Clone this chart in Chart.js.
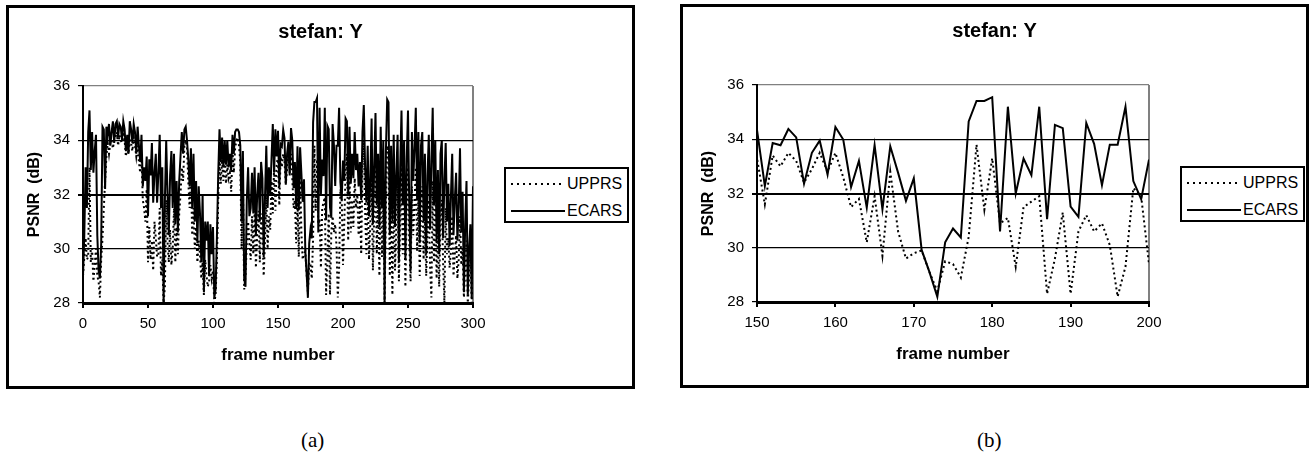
<!DOCTYPE html>
<html>
<head>
<meta charset="utf-8">
<script src="https://cdn.jsdelivr.net/npm/chart.js@4.4.1/dist/chart.umd.min.js"></script>
<style>
  html, body { margin: 0; padding: 0; background: #fff; }
  body { width: 1312px; height: 471px; position: relative; overflow: hidden; }
  .panel { position: absolute; width: 623px; height: 378px; border: 3px solid #000; background: #fff; }
  .plot { position: absolute; left: 0; top: 0; width: 623px; height: 378px; }
  .legend { position: absolute; border: 2px solid #000; background: #fff;
            font-family: 'Liberation Sans', Arial, sans-serif; font-size: 16px; color: #000; }
  .legend .row { position: absolute; left: 0; height: 20px; line-height: 20px; white-space: nowrap; }
  .legend svg { position: absolute; left: 4px; top: 4px; }
  .legend span { position: absolute; left: 61px; top: 0; }
  .cap { position: absolute; top: 428px; font-family: 'Liberation Serif', 'Times New Roman', serif;
         font-size: 21px; color: #000; }
</style>
</head>
<body>

<div class="panel" id="panelA" style="left:6px; top:5px;">
  <div class="plot"><canvas id="chartA"></canvas></div>
</div>
<div class="legend" style="left:504px; top:167px; width:121px; height:52px;">
  <div class="row" style="top:5px;"><svg width="56" height="12"><line x1="1" y1="6" x2="55" y2="6" stroke="#000" stroke-width="2" stroke-dasharray="2,4"/></svg><span>UPPRS</span></div>
  <div class="row" style="top:32px;"><svg width="56" height="12"><line x1="1" y1="6" x2="55" y2="6" stroke="#000" stroke-width="2"/></svg><span>ECARS</span></div>
</div>

<div class="panel" id="panelB" style="left:680px; top:4px;">
  <div class="plot"><canvas id="chartB"></canvas></div>
</div>
<div class="legend" style="left:1180px; top:166px; width:121px; height:52px;">
  <div class="row" style="top:5px;"><svg width="56" height="12"><line x1="1" y1="6" x2="55" y2="6" stroke="#000" stroke-width="2" stroke-dasharray="2,4"/></svg><span>UPPRS</span></div>
  <div class="row" style="top:32px;"><svg width="56" height="12"><line x1="1" y1="6" x2="55" y2="6" stroke="#000" stroke-width="2"/></svg><span>ECARS</span></div>
</div>

<div class="cap" style="left:301px;">(a)</div>
<div class="cap" style="left:977px;">(b)</div>

<script>
// ------------------------------------------------------------
// DATA  (PSNR in dB, one value per frame 0..300)
// ------------------------------------------------------------
const frames = Array.from({ length: 301 }, (_, i) => i);

const ecars = [
    29.0, 30.5, 33.0, 31.5, 34.3, 35.1, 32.9, 34.3, 32.8, 33.6,
    34.2, 30.5, 29.2, 28.9, 30.2, 34.5, 34.4, 32.2, 34.5, 34.2,
    34.6, 33.8, 34.3, 34.7, 33.9, 34.6, 34.7, 34.1, 34.6, 34.5,
    34.0, 34.7, 34.4, 33.6, 34.2, 33.5, 34.7, 34.4, 33.9, 34.6,
    34.3, 33.5, 34.5, 33.8, 33.2, 34.2, 32.3, 33.0, 32.5, 33.4,
    31.2, 33.3, 32.7, 33.9, 31.7, 32.8, 33.5, 31.7, 32.8, 34.2,
    31.5, 33.0, 28.0, 31.8, 34.0, 32.0, 30.5, 32.7, 33.6, 31.5,
    33.5, 30.9, 32.5, 30.6, 32.5, 33.4, 34.3, 33.5, 34.4, 34.5,
    34.0, 33.3, 32.3, 33.7, 31.5, 33.5, 31.0, 32.5, 30.2, 32.3,
    31.3, 29.5, 32.0, 28.4, 31.0, 30.3, 31.0, 29.0, 30.9, 29.8,
    30.8, 28.2, 28.5, 30.4, 32.7, 34.4, 33.2, 34.1, 33.0, 34.0,
    33.1, 34.0, 33.0, 33.5, 32.9, 34.2, 33.5, 34.3, 34.4, 34.4,
    34.3, 33.8, 31.0, 33.6, 28.9, 28.6, 31.8, 33.0, 31.2, 31.5,
    32.8, 31.3, 33.0, 30.5, 32.0, 32.8, 31.0, 33.2, 32.6, 29.7,
    31.9, 33.8, 31.5, 33.0, 32.0, 33.3, 34.6, 32.8, 34.4, 33.4,
    34.35, 32.28, 33.86, 33.78, 34.38, 34.07, 32.36, 33.5, 33.95, 32.7,
    34.45, 33.99, 32.24, 33.2, 31.48, 33.78, 31.42, 33.74, 32.76, 31.73,
    32.56, 29.92, 29.1, 28.19, 30.2, 30.71, 30.38, 34.66, 35.41, 35.41,
    35.55, 30.6, 35.2, 32.0, 33.29, 32.68, 35.2, 31.05, 34.53, 34.41,
    31.52, 31.14, 34.6, 33.83, 32.31, 33.8, 33.8, 35.2, 32.46, 31.79,
    33.25, 32.5, 34.8, 34.7, 32.0, 34.5, 32.4, 33.5, 32.6, 34.3,
    32.9, 33.5, 32.3, 33.2, 31.8, 34.3, 35.3, 33.0, 31.7, 33.8,
    31.2, 32.5, 34.8, 30.9, 33.0, 35.0, 31.6, 33.5, 30.8, 34.5,
    31.5, 34.0, 28.0, 33.6, 35.5, 35.4, 30.5, 33.8, 31.0, 34.2,
    30.8, 32.7, 34.2, 29.5, 33.0, 35.1, 31.6, 34.0, 29.6, 33.3,
    35.1, 31.5, 29.2, 34.3, 32.5, 33.7, 35.2, 31.8, 34.3, 30.2,
    33.8, 34.3, 31.0, 33.5, 29.8, 32.7, 34.2, 30.7, 33.2, 35.2,
    31.6, 34.0, 30.2, 32.9, 29.8, 33.5, 34.0, 30.4, 32.5, 33.9,
    31.0, 32.4, 30.1, 31.9, 33.5, 30.5, 31.8, 32.8, 30.3, 31.5,
    33.7, 30.6, 32.1, 28.4, 30.9, 32.5, 28.3, 30.0, 30.9, 28.2,
    32.3
];

const upprs = [
    29.0, 29.7, 30.4, 29.6, 29.7, 33.0, 29.5, 30.0, 28.8, 29.4,
    30.0, 29.0, 28.8, 28.2, 29.6, 30.4, 31.5, 32.5, 33.4, 33.9,
    33.5, 33.9, 34.0, 33.7, 34.0, 34.1, 34.3, 33.8, 34.2, 34.0,
    33.9, 34.3, 34.0, 33.4, 33.8, 33.5, 34.0, 33.9, 33.6, 34.1,
    33.8, 33.4, 33.8, 33.2, 32.8, 33.5, 31.8, 31.5, 31.0, 32.2,
    29.5, 30.8, 29.6, 30.3, 29.2, 31.0, 30.4, 29.7, 29.8, 31.5,
    29.0, 29.6, 28.0, 28.6, 31.8, 30.3, 29.5, 30.7, 29.4, 30.0,
    31.5, 29.5, 30.8, 29.8, 31.3, 32.0, 33.0, 32.5, 33.8, 34.0,
    33.7, 32.5, 31.5, 32.8, 30.5, 31.5, 30.0, 30.8, 29.5, 30.3,
    29.8, 28.9, 29.5, 28.3, 29.6, 29.0, 28.6, 28.8, 29.4, 28.9,
    29.2, 28.0, 28.3, 29.6, 31.8, 33.5, 32.4, 33.3, 32.5, 33.4,
    32.4, 33.1, 32.6, 32.8, 32.1, 33.6, 32.8, 33.7, 34.0, 34.1,
    33.8, 33.2, 30.0, 32.4, 28.5, 29.0, 30.2, 31.0, 30.2, 29.6,
    31.2, 29.8, 31.4, 29.3, 30.5, 31.4, 29.5, 31.3, 30.6, 29.0,
    30.3, 32.0, 30.0, 31.2, 30.7, 32.5, 31.3, 33.0, 31.4, 33.2,
    33.3, 31.6, 33.4, 33.0, 33.5, 33.2, 32.4, 32.9, 33.5, 32.8,
    33.5, 32.6, 31.5, 31.8, 30.2, 31.9, 29.7, 32.8, 30.6, 29.6,
    29.8, 29.9, 29.1, 28.4, 29.5, 29.4, 28.9, 30.4, 33.8, 31.4,
    33.3, 30.9, 31.1, 29.3, 31.5, 31.7, 31.9, 28.3, 29.6, 31.3,
    28.3, 30.6, 31.2, 30.6, 30.9, 30.1, 28.2, 29.3, 32.2, 31.9,
    29.4, 31.0, 32.8, 33.5, 30.3, 32.7, 30.6, 31.8, 30.8, 32.6,
    31.5, 32.0, 30.5, 31.8, 29.8, 33.0, 34.0, 31.4, 29.8, 32.4,
    29.6, 31.0, 32.8, 29.2, 31.3, 33.2, 29.8, 32.0, 29.0, 32.6,
    29.7, 31.8, 28.0, 31.5, 33.8, 33.5, 29.0, 31.8, 28.3, 32.0,
    29.2, 30.8, 32.5, 28.8, 31.0, 33.0, 29.8, 32.2, 28.6, 31.5,
    33.0, 30.2, 28.8, 32.3, 30.5, 31.6, 33.0, 29.9, 32.0, 29.0,
    31.5, 32.3, 29.6, 31.2, 29.0, 30.6, 31.8, 29.3, 28.2, 32.5,
    29.5, 31.6, 28.9, 30.7, 28.6, 31.2, 31.8, 29.5, 28.0, 31.5,
    29.8, 30.4, 29.3, 29.9, 31.2, 29.0, 29.8, 30.5, 28.9, 29.6,
    31.2, 29.4, 30.0, 28.2, 29.2, 30.3, 28.0, 29.0, 29.8, 28.0,
    29.0
];

const yTicks = [28, 30, 32, 34, 36];
const xTicksA = [0, 50, 100, 150, 200, 250, 300];
const xTicksB = [150, 160, 170, 180, 190, 200];

// ------------------------------------------------------------
// CHARTS
// ------------------------------------------------------------
Chart.defaults.font.family = "'Liberation Sans', Arial, sans-serif";
Chart.defaults.color = '#000';

function toPoints(values) {
    return values.map((v, i) => ({ x: frames[i], y: v }));
}

function makeChart(canvasId, xTicks, rightSpace) {
    const xMin = xTicks[0];
    const xMax = xTicks[xTicks.length - 1];
    return new Chart(document.getElementById(canvasId), {
        type: 'line',
        data: {
            datasets: [{
                label: 'UPPRS',
                data: toPoints(upprs),
                borderColor: '#000',
                borderWidth: 2,
                borderDash: [2, 3],
                pointRadius: 0,
                tension: 0,
                order: 2
            }, {
                label: 'ECARS',
                data: toPoints(ecars),
                borderColor: '#000',
                borderWidth: 2,
                pointRadius: 0,
                tension: 0,
                order: 1
            }]
        },
        options: {
            responsive: true,
            maintainAspectRatio: false,
            animation: false,
            layout: { padding: 0 },
            plugins: {
                legend: { display: false },
                tooltip: { enabled: false },
                title: {
                    display: true,
                    text: 'stefan: Y',
                    font: { size: 20, weight: 'bold', lineHeight: 1.2 },
                    padding: { top: 12, bottom: 42 }
                }
            },
            scales: {
                x: {
                    type: 'linear',
                    min: xMin,
                    max: xMax,
                    afterBuildTicks: s => { s.ticks = xTicks.map(v => ({ value: v })); },
                    afterFit: s => { s.height = 83; },
                    border: { display: true, color: '#000', width: 3 },
                    grid: {
                        drawOnChartArea: true,
                        color: c => (c.tick && c.tick.value === xMax) ? '#808080' : 'rgba(0,0,0,0)',
                        lineWidth: 2,
                        tickColor: '#000',
                        tickLength: 5
                    },
                    ticks: { font: { size: 15 }, padding: 7, maxRotation: 0 },
                    title: {
                        display: true,
                        text: 'frame number',
                        font: { size: 17, weight: 'bold', lineHeight: 1.2 },
                        padding: { top: 0, bottom: 20 }
                    }
                },
                y: {
                    min: 28,
                    max: 36,
                    afterBuildTicks: s => { s.ticks = yTicks.map(v => ({ value: v })); },
                    afterFit: s => { s.width = 74; },
                    border: { display: true, color: '#000', width: 2 },
                    grid: {
                        color: c => (c.tick && c.tick.value === 36) ? '#808080' : '#000',
                        lineWidth: c => (c.tick && c.tick.value === 32) ? 2 : 1.2,
                        tickColor: '#000',
                        tickLength: 5
                    },
                    ticks: { font: { size: 15 }, padding: 8 },
                    title: {
                        display: true,
                        text: 'PSNR  (dB)',
                        font: { size: 16, weight: 'bold', lineHeight: 1.2 },
                        padding: { top: 16, bottom: 0 }
                    }
                },
                // empty right-hand box that keeps room for the legend
                side: {
                    position: 'right',
                    display: true,
                    afterFit: s => { s.width = rightSpace; },
                    grid: { display: false },
                    border: { display: false },
                    ticks: { display: false }
                }
            }
        }
    });
}

makeChart('chartA', xTicksA, 159);
makeChart('chartB', xTicksB, 157);
</script>
</body>
</html>
